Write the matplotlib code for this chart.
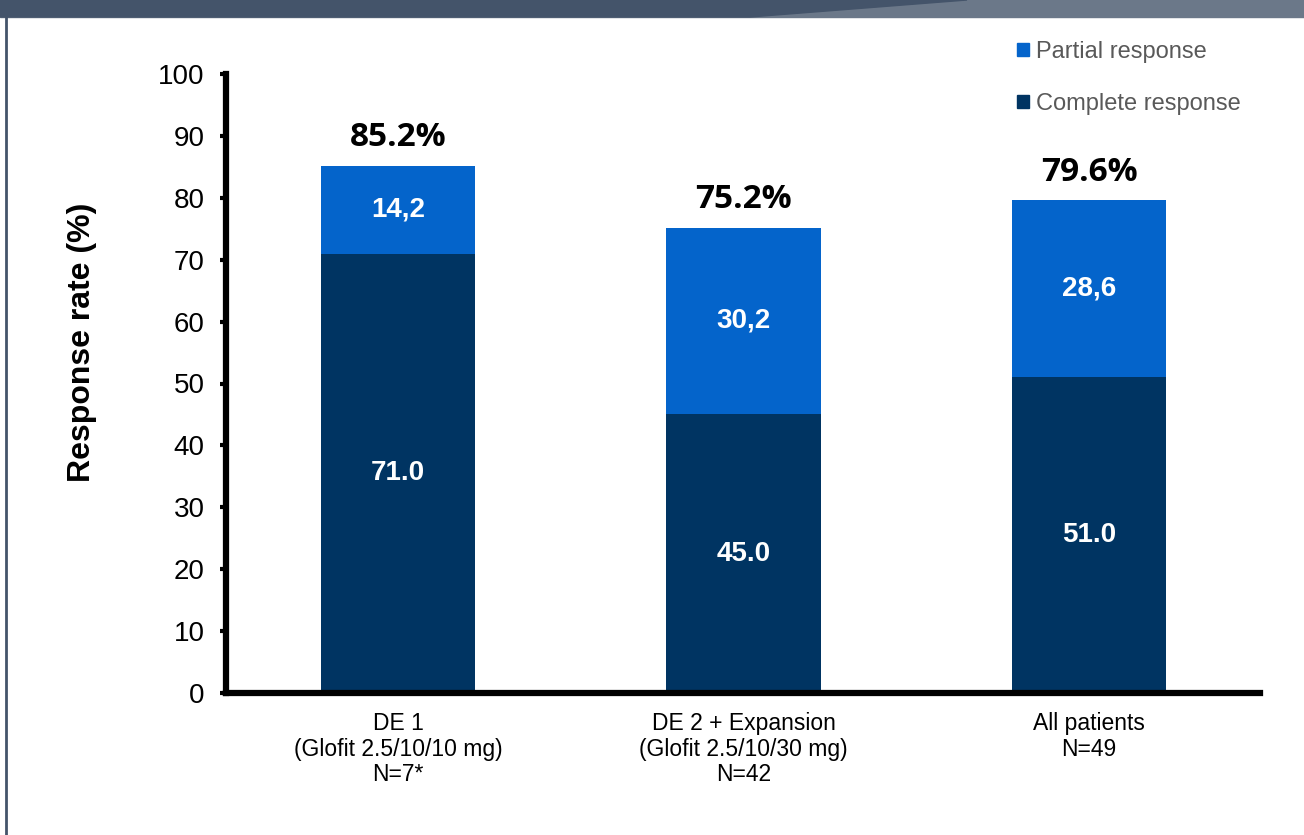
import matplotlib.pyplot as plt
from matplotlib.patches import Polygon, Rectangle, Patch
from matplotlib.lines import Line2D

# Data
groups = ['DE 1\n(Glofit 2.5/10/10 mg)\nN=7*',
          'DE 2 + Expansion\n(Glofit 2.5/10/30 mg)\nN=42',
          'All patients\nN=49']
complete = [71.0, 45.0, 51.0]
partial = [14.2, 30.2, 28.6]
complete_labels = ['71.0', '45.0', '51.0']
partial_labels = ['14,2', '30,2', '28,6']
total_labels = ['85.2%', '75.2%', '79.6%']

c_complete = '#003462'
c_partial = '#0464CB'

plt.rcParams['font.family'] = ['Liberation Sans', 'DejaVu Sans']

fig = plt.figure(figsize=(13.04, 8.35), dpi=100)

# slide-like header band and left border
fig.patches.append(Rectangle((0, 1 - 17/835), 1, 17/835, transform=fig.transFigure,
                             color='#6B7889', zorder=0))
fig.patches.append(Polygon([(0, 1), (967/1304, 1), (750/1304, 1 - 17/835), (0, 1 - 17/835)],
                           closed=True, transform=fig.transFigure, color='#44546A', zorder=1))
fig.add_artist(Line2D([6/1304, 6/1304], [0, 1 - 17/835], transform=fig.transFigure,
                      color='#44546A', linewidth=2))

ax = fig.add_axes([226/1304, 1 - 693/835, (1260 - 226)/1304, (693 - 74)/835])
x = range(len(groups))
w = 0.446
ax.bar(x, complete, w, color=c_complete, label='Complete response', zorder=2)
ax.bar(x, partial, w, bottom=complete, color=c_partial, label='Partial response', zorder=2)

for i in x:
    ax.text(i, complete[i] / 2, complete_labels[i], ha='center', va='center',
            color='white', fontsize=20, fontweight='bold')
    ax.text(i, complete[i] + partial[i] / 2, partial_labels[i], ha='center', va='center',
            color='white', fontsize=20, fontweight='bold')
    ax.text(i, complete[i] + partial[i] + 1.8, total_labels[i], ha='center', va='bottom',
            color='black', fontsize=24, fontweight='bold', family=['Open Sans', 'DejaVu Sans'])

ax.set_xlim(-0.498, 2.495)
ax.set_ylim(0, 100)
ax.set_yticks(range(0, 101, 10))
ax.set_xticks(list(x))
ax.set_xticklabels(groups, fontsize=16.5, linespacing=1.12)
ax.tick_params(axis='y', labelsize=20, width=3, length=4.5, direction='out', pad=11)
ax.tick_params(axis='x', length=0, pad=14)
for s in ['top', 'right']:
    ax.spines[s].set_visible(False)
for s in ['left', 'bottom']:
    ax.spines[s].set_linewidth(4.5)
ax.set_ylabel('Response rate (%)', fontsize=23, fontweight='bold')
ax.yaxis.set_label_coords(-0.125, 0.567)

handles = [Patch(color=c_partial), Patch(color=c_complete)]
fig.legend(handles, ['Partial response', 'Complete response'], loc='upper left',
           bbox_to_anchor=(1017/1304, 1 - 41/835), frameon=False, fontsize=17,
           labelcolor='#595959', handlelength=0.5, handleheight=0.5,
           handletextpad=0.3, labelspacing=1.26, borderpad=0, borderaxespad=0)

fig.savefig('out.png', dpi=100)
